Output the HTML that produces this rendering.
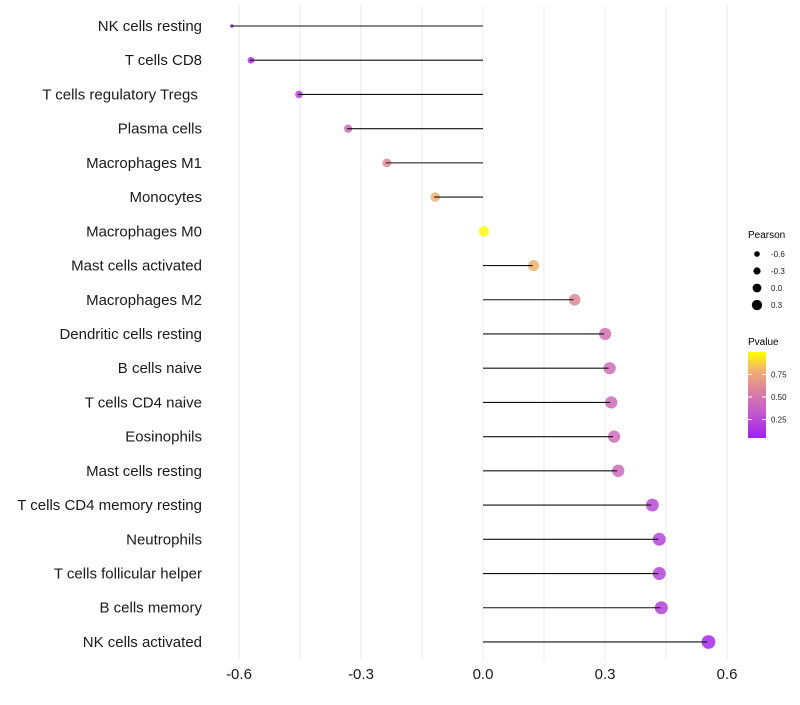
<!DOCTYPE html>
<html><head><meta charset="utf-8">
<style>
body{margin:0;background:#fff;font-family:"Liberation Sans",sans-serif;}
svg text{font-family:"Liberation Sans",sans-serif;}
</style></head>
<body>
<svg id="chart" width="800" height="700" xmlns="http://www.w3.org/2000/svg">
<defs>
<linearGradient id="pgrad" x1="0" y1="1" x2="0" y2="0">
<stop offset="0" stop-color="#A020F0"/>
<stop offset="0.33" stop-color="#C660C8"/>
<stop offset="0.55" stop-color="#DC80A0"/>
<stop offset="0.78" stop-color="#F0B070"/>
<stop offset="1" stop-color="#FFFF00"/>
</linearGradient>
</defs>
<g id="grid"></g>
<g id="marks"></g>
<g id="labels"></g>
<g id="xticks"></g>
<g>
<text x="748" y="238" font-size="10" fill="#000">Pearson</text>
<g id="sizeLegend"></g>
</g>
<g>
<text x="748" y="345" font-size="10" fill="#000">Pvalue</text>
<rect x="748" y="352" width="18" height="86" fill="url(#pgrad)"/>
<g id="colorTicks"></g>
</g>
</svg>
<script>
const categories=["NK cells resting","T cells CD8","T cells regulatory  Tregs\u00a0","Plasma cells","Macrophages M1","Monocytes","Macrophages M0","Mast cells activated","Macrophages M2","Dendritic cells resting","B cells naive","T cells CD4 naive","Eosinophils","Mast cells resting","T cells CD4 memory resting","Neutrophils","T cells follicular helper","B cells memory","NK cells activated"];
const pearson=[-0.62,-0.573,-0.455,-0.334,-0.239,-0.12,0.0,0.122,0.223,0.298,0.309,0.313,0.32,0.33,0.414,0.431,0.431,0.436,0.552];
const pvalues=[0.05,0.1,0.2,0.4,0.6,0.78,0.99,0.78,0.6,0.45,0.42,0.4,0.42,0.4,0.22,0.18,0.18,0.17,0.05];
const xTicks=[-0.6,-0.3,0.0,0.3,0.6];
const xTickLabels=["-0.6","-0.3","0.0","0.3","0.6"];
const sizeLegendVals=[-0.6,-0.3,0.0,0.3];
const colorTickVals=[0.25,0.5,0.75];
const colorTickLabels=["0.25","0.50","0.75"];

const NS="http://www.w3.org/2000/svg";
const x=v=>483+v*406.67;
const y=i=>26+i*34.22;
const r=v=>v<-0.6?1.8:3.4+(v+0.57)*3.1;
const stops=[[0,[160,32,240]],[0.33,[198,96,200]],[0.55,[220,128,160]],[0.78,[240,176,112]],[1,[255,255,0]]];
function col(p){for(let k=1;k<stops.length;k++){if(p<=stops[k][0]){const a=stops[k-1],b=stops[k];const t=(p-a[0])/(b[0]-a[0]);return 'rgb('+a[1].map((c,j)=>Math.round(c+(b[1][j]-c)*t)).join(',')+')';}}return 'rgb(255,255,0)';}
function mk(tag,attrs,parent){const e=document.createElementNS(NS,tag);for(const k in attrs)e.setAttribute(k,attrs[k]);parent.appendChild(e);return e;}
const grid=document.getElementById('grid'),marks=document.getElementById('marks'),labels=document.getElementById('labels'),xt=document.getElementById('xticks');
for(let v=-0.6;v<=0.61;v+=0.15){const l=mk('line',{x1:x(v),x2:x(v),y1:5,y2:660,stroke:'#ebebeb','stroke-width':1},grid);

}
categories.forEach((c,i)=>{
 const pt=mk('circle',{cx:x(pearson[i])+1,cy:y(i),r:r(pearson[i]),fill:col(pvalues[i]),'fill-opacity':0.85},marks);
 
 
 const ln=mk('line',{x1:x(0),x2:x(pearson[i]),y1:y(i),y2:y(i),stroke:'#111','stroke-width':1.1},marks);
 
 
 const t=mk('text',{x:202,y:y(i)+5,'text-anchor':'end','font-size':15,fill:'#1a1a1a'},labels);t.textContent=c;
 t.setAttribute('xml:space','preserve');
 
 
});
xTicks.forEach((v,i)=>{const t=mk('text',{x:x(v),y:679,'text-anchor':'middle','font-size':15,fill:'#1a1a1a'},xt);t.textContent=xTickLabels[i];
 
 });
const sl=document.getElementById('sizeLegend');
sizeLegendVals.forEach((v,i)=>{const cy=254+i*17;
 const c=mk('circle',{cx:757,cy:cy,r:r(v)*0.85,fill:'#000'},sl);
 
 
 const t=mk('text',{x:771,y:cy+3,'font-size':8,fill:'#1a1a1a'},sl);t.textContent=String(v.toFixed(1));
 
 });
const ct=document.getElementById('colorTicks');
colorTickVals.forEach((v,i)=>{const cy=442-v*90;
 mk('line',{x1:748,x2:752,y1:cy,y2:cy,stroke:'#fff','stroke-width':1},ct);
 mk('line',{x1:762,x2:766,y1:cy,y2:cy,stroke:'#fff','stroke-width':1},ct);
 const t=mk('text',{x:771,y:cy+3,'font-size':8,fill:'#1a1a1a'},ct);t.textContent=colorTickLabels[i];
 
 });
</script>
</body></html>
